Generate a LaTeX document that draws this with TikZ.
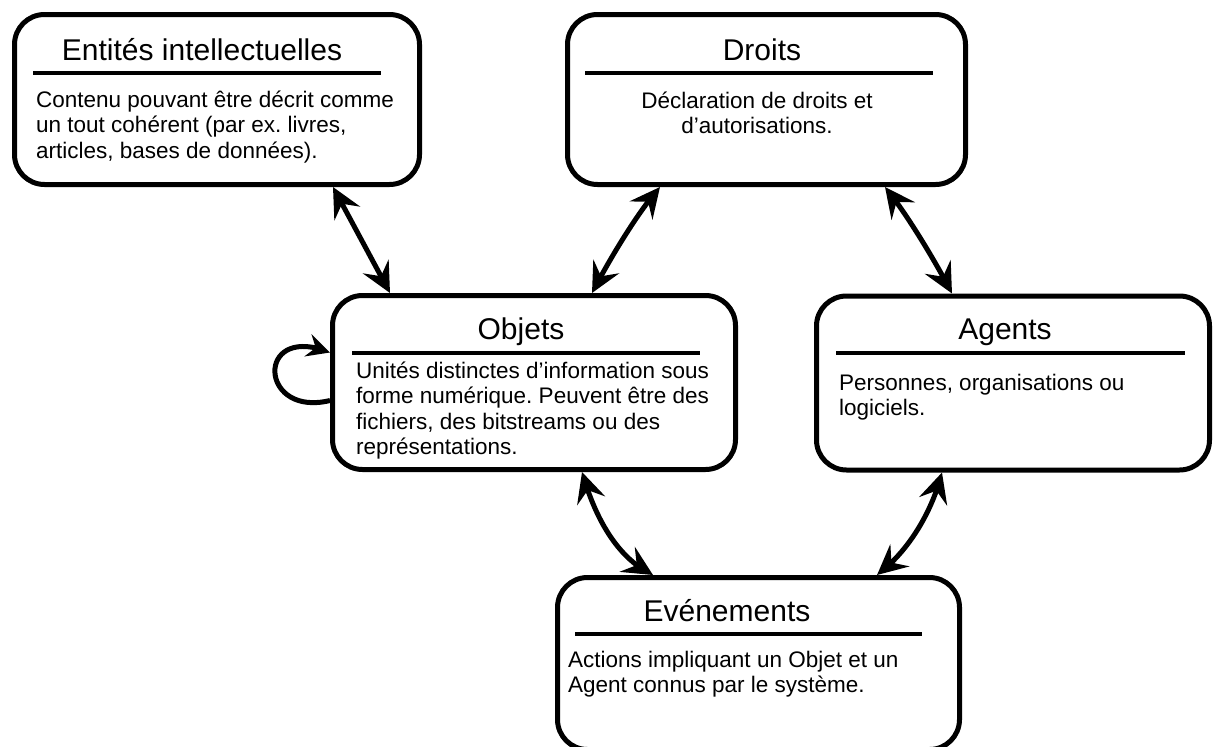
\documentclass[tikz,border=0pt]{standalone}
\usepackage{fontspec}
\setmainfont{Liberation Sans}
\usetikzlibrary{arrows.meta,bending}
\frenchspacing
\begin{document}
\begin{tikzpicture}[x=1pt,y=-1pt,
  box/.style={draw, line width=5pt, rounded corners=30pt, inner sep=0pt},
  ttl/.style={font=\fontsize{30}{34}\selectfont, inner sep=0pt, anchor=base},
  txt/.style={font=\fontsize{22.5}{25.5}\selectfont, inner sep=0pt, anchor=north west, align=left},
  ctxt/.style={txt, anchor=north, align=center},
  hrule/.style={line width=4pt},
  arr/.style={line width=5pt, {Stealth[length=30pt,width=29pt,inset=11pt,flex]}-{Stealth[length=30pt,width=29pt,inset=11pt,flex]}},
  selfarr/.style={line width=5pt, -{Stealth[length=23pt,width=23pt,inset=8pt,flex]}}]
\useasboundingbox (0,0) rectangle (1216,747);
\fill[white] (0,0) rectangle (1216,747);
% boxes
\node[box, minimum width=405pt, minimum height=170pt] (ent) at (217,99.5) {};
\node[box, minimum width=398pt, minimum height=170pt] (drt) at (766.5,99.5) {};
\node[box, minimum width=403pt, minimum height=174pt] (obj) at (534,382.5) {};
\node[box, minimum width=393pt, minimum height=174pt] (agt) at (1013,383) {};
\node[box, minimum width=402pt, minimum height=172pt] (evt) at (758.5,663.5) {};
% titles
\node[ttl] (entT) at (202,60) {Entités intellectuelles};
\node[ttl] (drtT) at (762,60) {Droits};
\node[ttl] (objT) at (521,339) {Objets};
\node[ttl] (agtT) at (1005,339) {Agents};
\node[ttl] (evtT) at (727,621) {Evénements};
% rules
\draw[hrule] (33,73) -- (381,73);
\draw[hrule] (585,73) -- (933,73);
\draw[hrule] (352,353) -- (700,353);
\draw[hrule] (836,353) -- (1185,353);
\draw[hrule] (575,634) -- (922,634);
% bodies (first baseline = north + 18)
\node[txt] (entB) at (36,89) {\rule{0pt}{18pt}Contenu pouvant être décrit comme\\un tout cohérent (par ex. livres,\\articles, bases de données).};
\node[ctxt] (drtB) at (757,90) {\rule{0pt}{18pt}Déclaration de droits et\\d’autorisations.};
\node[txt] (objB) at (356,360) {\rule{0pt}{18pt}Unités distinctes d’information sous\\forme numérique. Peuvent être des\\fichiers, des bitstreams ou des\\représentations.};
\node[txt] (agtB) at (839,372) {\rule{0pt}{18pt}Personnes, organisations ou\\logiciels.};
\node[txt] (evtB) at (568,649) {\rule{0pt}{18pt}Actions impliquant un Objet et un\\Agent connus par le système.};
% connectors
\draw[arr] ([xshift=116pt]ent.south) -- ([xshift=-144pt]obj.north);
\draw[arr] ([xshift=-106.5pt]drt.south) .. controls +(-23,26) and +(16,-31) .. ([xshift=58pt]obj.north);
\draw[arr] ([xshift=118.5pt]drt.south) .. controls +(22,27) and +(-16,-31) .. ([xshift=-61pt]agt.north);
\draw[arr] ([xshift=48pt]obj.south) .. controls +(12,42) and +(-38,-18) .. ([xshift=-105.5pt]evt.north);
\draw[arr] ([xshift=-71pt]agt.south) .. controls +(-10,39) and +(32,-24) .. ([xshift=118.5pt]evt.north);
\draw[selfarr] ([yshift=-18pt]obj.west) .. controls (258,418) and (255,322) .. ([yshift=30pt]obj.west);
\end{tikzpicture}
\end{document}
